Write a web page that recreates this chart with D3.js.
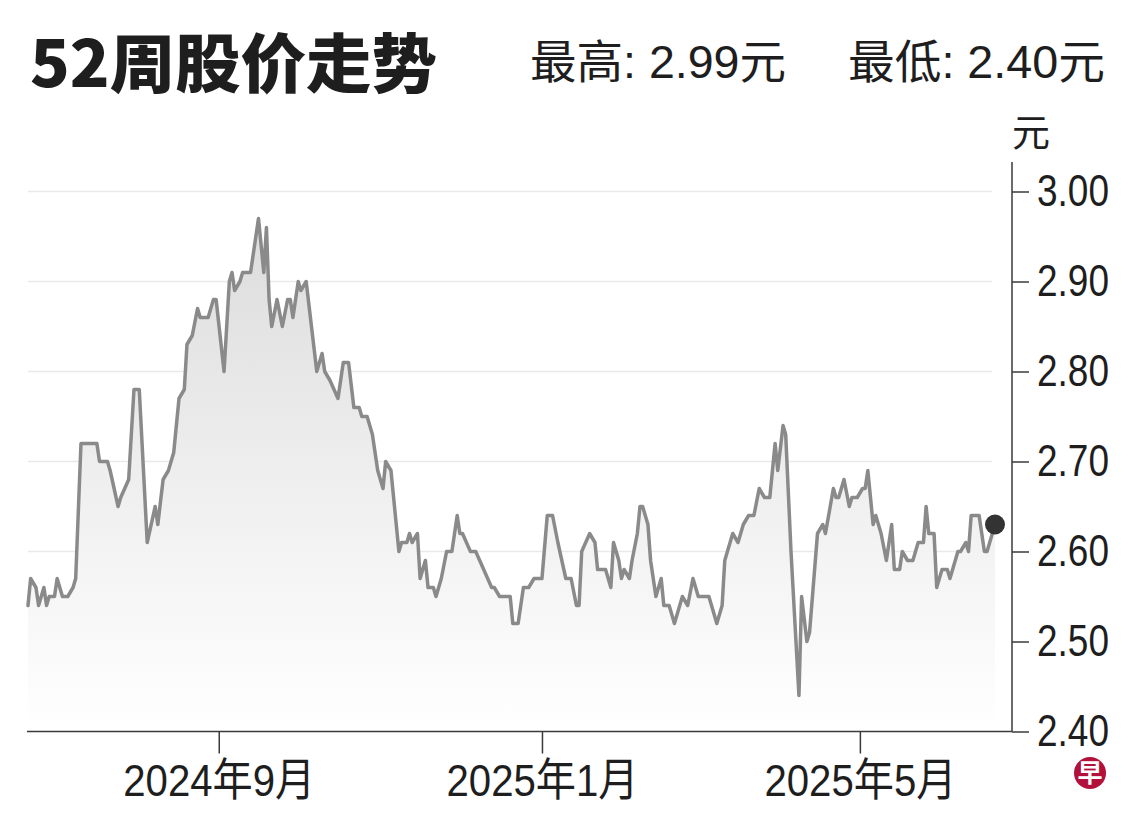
<html>

<head>
    <meta charset="utf-8">
    <script src="https://d3js.org/d3.v7.min.js"></script>

    <style>
        body {
            margin: 0;
            background: #fff;
        }

        svg text {
            font-family: "Liberation Sans", Arial, "Noto Sans CJK SC", sans-serif;
            fill: #1e1e1e;
        }

        .title {
            font-family: "Noto Sans CJK SC", sans-serif;
            font-weight: 900;
        }

        .gridlines line {
            stroke: #e9e9e9;
            stroke-width: 1.5;
        }

        .axis line,
        .axis-line {
            stroke: #3a3a3a;
            stroke-width: 1.5;
        }
    </style>
</head>

<body>
    <svg id="chart" width="1140" height="826"></svg>
    <script>
        // closing prices, one date per reading
        const dates = [
            "2024-06-21", "2024-06-22", "2024-06-24", "2024-06-25", "2024-06-27", "2024-06-28", "2024-06-29",
            "2024-07-01", "2024-07-02", "2024-07-04", "2024-07-06", "2024-07-08", "2024-07-09", "2024-07-11", "2024-07-17",
            "2024-07-18", "2024-07-21", "2024-07-22", "2024-07-25", "2024-07-26", "2024-07-29", "2024-07-31",
            "2024-08-02", "2024-08-05", "2024-08-08", "2024-08-09", "2024-08-11", "2024-08-13", "2024-08-15", "2024-08-17",
            "2024-08-19", "2024-08-20", "2024-08-22", "2024-08-24", "2024-08-25", "2024-08-28", "2024-08-30", "2024-08-31",
            "2024-09-03", "2024-09-05", "2024-09-06", "2024-09-07", "2024-09-09", "2024-09-10", "2024-09-13", "2024-09-16",
            "2024-09-18", "2024-09-19", "2024-09-20", "2024-09-21", "2024-09-23", "2024-09-25", "2024-09-27", "2024-09-28",
            "2024-09-29",
            "2024-10-01", "2024-10-02", "2024-10-04", "2024-10-08", "2024-10-10", "2024-10-11", "2024-10-13", "2024-10-16",
            "2024-10-18", "2024-10-20", "2024-10-22", "2024-10-24", "2024-10-25", "2024-10-27", "2024-10-29", "2024-10-31",
            "2024-11-02", "2024-11-03", "2024-11-05", "2024-11-06", "2024-11-08", "2024-11-09", "2024-11-11", "2024-11-12",
            "2024-11-13", "2024-11-15", "2024-11-16", "2024-11-18", "2024-11-19", "2024-11-21", "2024-11-22", "2024-11-24",
            "2024-11-26", "2024-11-28", "2024-11-30",
            "2024-12-01", "2024-12-02", "2024-12-05", "2024-12-07", "2024-12-10", "2024-12-13", "2024-12-14", "2024-12-16",
            "2024-12-20", "2024-12-21", "2024-12-23", "2024-12-25", "2024-12-27", "2024-12-29",
            "2025-01-01", "2025-01-03", "2025-01-05", "2025-01-07", "2025-01-10", "2025-01-12", "2025-01-14", "2025-01-15",
            "2025-01-16", "2025-01-19", "2025-01-21", "2025-01-22", "2025-01-25", "2025-01-27", "2025-01-28", "2025-01-30",
            "2025-01-31",
            "2025-02-01", "2025-02-03", "2025-02-04", "2025-02-06", "2025-02-07", "2025-02-08", "2025-02-10", "2025-02-11",
            "2025-02-13", "2025-02-15", "2025-02-16", "2025-02-18", "2025-02-20", "2025-02-23", "2025-02-25", "2025-02-27",
            "2025-03-01", "2025-03-05", "2025-03-08", "2025-03-10", "2025-03-11", "2025-03-14", "2025-03-16", "2025-03-18",
            "2025-03-20", "2025-03-22", "2025-03-24", "2025-03-26", "2025-03-28", "2025-03-30", "2025-03-31",
            "2025-04-02", "2025-04-03", "2025-04-05", "2025-04-08", "2025-04-09", "2025-04-11", "2025-04-12", "2025-04-15",
            "2025-04-17", "2025-04-18", "2025-04-21", "2025-04-22", "2025-04-23", "2025-04-25", "2025-04-27", "2025-04-28",
            "2025-04-30",
            "2025-05-02", "2025-05-03", "2025-05-04", "2025-05-06", "2025-05-07", "2025-05-09", "2025-05-11", "2025-05-13",
            "2025-05-14", "2025-05-16", "2025-05-17", "2025-05-19", "2025-05-21", "2025-05-23", "2025-05-25", "2025-05-26",
            "2025-05-27", "2025-05-29", "2025-05-30",
            "2025-06-01", "2025-06-03", "2025-06-04", "2025-06-07", "2025-06-08", "2025-06-10", "2025-06-11", "2025-06-12",
            "2025-06-15", "2025-06-17", "2025-06-18", "2025-06-21"
        ];

        const prices = [
            2.54, 2.57, 2.56, 2.54, 2.56, 2.54, 2.55,
            2.55, 2.57, 2.55, 2.55, 2.56, 2.57, 2.72, 2.72,
            2.70, 2.70, 2.69, 2.65, 2.66, 2.68, 2.78,
            2.78, 2.61, 2.65, 2.63, 2.68, 2.69, 2.71, 2.77,
            2.78, 2.83, 2.84, 2.87, 2.86, 2.86, 2.88, 2.88,
            2.80, 2.90, 2.91, 2.89, 2.90, 2.91, 2.91, 2.97,
            2.91, 2.96, 2.88, 2.85, 2.88, 2.85, 2.88, 2.88,
            2.86,
            2.90, 2.89, 2.90, 2.80, 2.82, 2.80, 2.79, 2.77,
            2.81, 2.81, 2.76, 2.76, 2.75, 2.75, 2.73, 2.69,
            2.67, 2.70, 2.69, 2.66, 2.60, 2.61, 2.61, 2.62,
            2.61, 2.62, 2.57, 2.59, 2.56, 2.56, 2.55, 2.57,
            2.60, 2.60, 2.64,
            2.62, 2.62, 2.60, 2.60, 2.58, 2.56, 2.56, 2.55,
            2.55, 2.52, 2.52, 2.56, 2.56, 2.57,
            2.57, 2.64, 2.64, 2.61, 2.57, 2.57, 2.54, 2.54,
            2.60, 2.62, 2.61, 2.58, 2.58, 2.56, 2.61, 2.59,
            2.57,
            2.58, 2.57, 2.59, 2.62, 2.65, 2.65, 2.63, 2.59,
            2.55, 2.57, 2.54, 2.54, 2.52, 2.55, 2.54, 2.57,
            2.55, 2.55, 2.52, 2.54, 2.59, 2.62, 2.61, 2.63,
            2.64, 2.64, 2.67, 2.66, 2.66, 2.72, 2.69,
            2.74, 2.73, 2.60, 2.44, 2.55, 2.50, 2.51, 2.62,
            2.63, 2.62, 2.67, 2.66, 2.66, 2.68, 2.65, 2.66,
            2.66,
            2.67, 2.67, 2.69, 2.63, 2.64, 2.62, 2.59, 2.63,
            2.58, 2.58, 2.60, 2.59, 2.59, 2.61, 2.61, 2.65,
            2.62, 2.62, 2.56,
            2.58, 2.58, 2.57, 2.60, 2.60, 2.61, 2.60, 2.64,
            2.64, 2.60, 2.60, 2.63
        ];

        const yTicks = [2.4, 2.5, 2.6, 2.7, 2.8, 2.9, 3.0];
        const xTicks = ["2024-09-01", "2025-01-01", "2025-05-01"];
        const titleText = "52周股价走势";
        const high52 = 2.99;
        const low52 = 2.40;
        const unit = "元";

        const parseDate = d3.timeParse("%Y-%m-%d");
        const data = dates.map((d, i) => ({ date: parseDate(d), price: prices[i] }));

        const svg = d3.select("svg#chart");

        // scales
        const xScale = d3.scaleTime()
            .domain([parseDate("2024-06-21"), parseDate("2025-06-21")])
            .range([28, 995]);
        const yScale = d3.scaleLinear().domain([2.4, 3.0]).range([731.5, 191.5]);

        // gradient under the line
        const grad = svg.append("defs").append("linearGradient")
            .attr("id", "fade")
            .attr("gradientUnits", "userSpaceOnUse")
            .attr("x1", 0).attr("x2", 0)
            .attr("y1", yScale(2.97)).attr("y2", yScale(2.4));
        grad.append("stop").attr("offset", 0).attr("stop-color", "#dcdcdc");
        grad.append("stop").attr("offset", 0.55).attr("stop-color", "#f0f0f0");
        grad.append("stop").attr("offset", 1).attr("stop-color", "#ffffff");

        // gridlines
        svg.append("g").attr("class", "gridlines")
            .selectAll("line").data(yTicks.filter(v => v > 2.4))
            .join("line")
            .attr("x1", 28).attr("x2", 992)
            .attr("y1", d => yScale(d)).attr("y2", d => yScale(d));

        const area = d3.area()
            .x(d => xScale(d.date))
            .y0(yScale(2.4))
            .y1(d => yScale(d.price));

        const line = d3.line()
            .x(d => xScale(d.date))
            .y(d => yScale(d.price));

        svg.append("path").datum(data)
            .attr("d", area)
            .attr("fill", "url(#fade)");

        svg.append("path").datum(data)
            .attr("d", line)
            .attr("fill", "none")
            .attr("stroke", "#8a8a8a")
            .attr("stroke-width", 3.5)
            .attr("stroke-linejoin", "round")
            .attr("stroke-linecap", "round");

        const last = data[data.length - 1];
        svg.append("circle")
            .attr("cx", xScale(last.date))
            .attr("cy", yScale(last.price))
            .attr("r", 10)
            .attr("fill", "#333");

        // y axis on the right
        const yAxis = svg.append("g").attr("class", "axis")
            .attr("transform", "translate(1012,0)")
            .call(d3.axisRight(yScale).tickValues(yTicks).tickSize(17).tickPadding(8)
                .tickFormat(d3.format(".2f")));
        yAxis.select(".domain").remove();
        yAxis.selectAll("text")
            .attr("font-size", 45)
            .attr("textLength", 72)
            .attr("lengthAdjust", "spacingAndGlyphs")
            .style("font-family", null);

        svg.append("line").attr("class", "axis-line")
            .attr("x1", 1012).attr("x2", 1012)
            .attr("y1", 162).attr("y2", yScale(2.4));

        // x axis
        const monthFmt = d => d.getFullYear() + "年" + (d.getMonth() + 1) + "月";
        const xAxis = svg.append("g").attr("class", "axis")
            .attr("transform", `translate(0,${yScale(2.4)})`)
            .call(d3.axisBottom(xScale).tickValues(xTicks.map(parseDate)).tickSize(22).tickPadding(11)
                .tickFormat(monthFmt));
        xAxis.select(".domain").remove();
        xAxis.selectAll("text")
            .attr("font-size", 45)
            .attr("textLength", 192)
            .attr("lengthAdjust", "spacingAndGlyphs");

        svg.append("line").attr("class", "axis-line")
            .attr("x1", 27).attr("x2", 1012)
            .attr("y1", yScale(2.4)).attr("y2", yScale(2.4));

        // header
        svg.append("text").attr("class", "title")
            .attr("x", 30).attr("y", 87)
            .attr("font-size", 64)
            .attr("textLength", 407)
            .attr("lengthAdjust", "spacingAndGlyphs")
            .text(titleText);

        svg.append("text")
            .attr("x", 530).attr("y", 78)
            .attr("font-size", 46)
            .attr("textLength", 256)
            .attr("lengthAdjust", "spacingAndGlyphs")
            .text("最高: " + high52.toFixed(2) + unit);

        svg.append("text")
            .attr("x", 848).attr("y", 78)
            .attr("font-size", 46)
            .attr("textLength", 257)
            .attr("lengthAdjust", "spacingAndGlyphs")
            .text("最低: " + low52.toFixed(2) + unit);

        svg.append("text")
            .attr("x", 1012).attr("y", 146)
            .attr("font-size", 38)
            .text(unit);

        // logo
        svg.append("circle")
            .attr("cx", 1090).attr("cy", 773).attr("r", 16)
            .attr("fill", "#b3113c");
        svg.append("text")
            .attr("x", 1090).attr("y", 773).attr("dy", "0.36em")
            .attr("text-anchor", "middle")
            .attr("font-size", 25)
            .attr("font-weight", 700)
            .style("fill", "#fff")
            .style("font-family", "'Noto Sans CJK SC', sans-serif")
            .text("早");
    </script>
</body>

</html>
